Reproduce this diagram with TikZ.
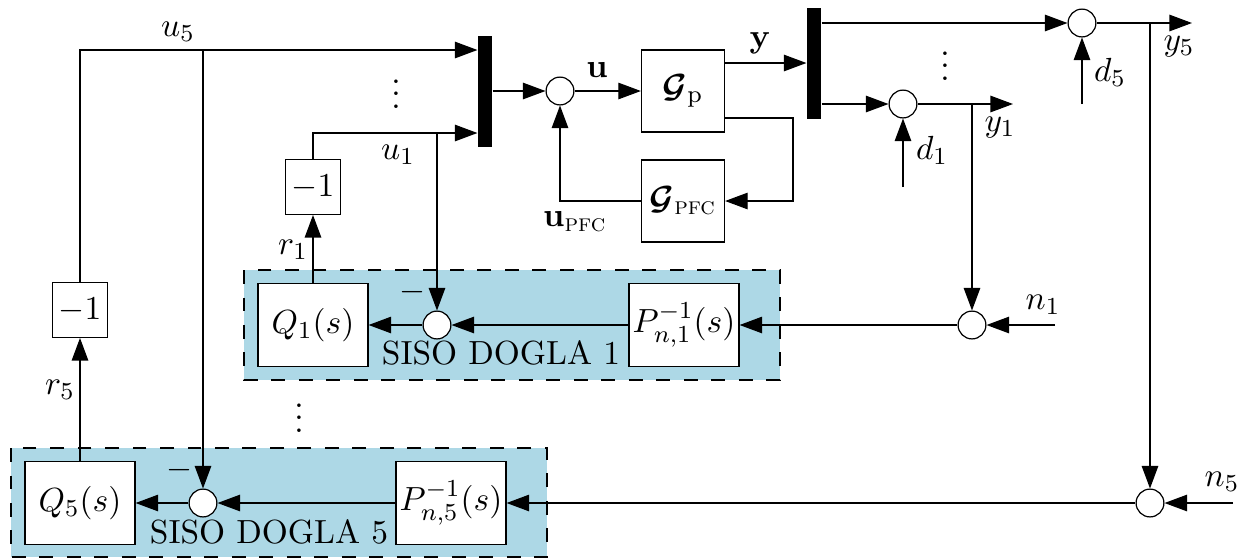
\documentclass[11pt,tikz,border=0pt]{standalone}
\usepackage{amsfonts, amsthm, amsmath}
\usepackage{amssymb}
\usepackage{bm}
\usepackage{color}
\usetikzlibrary{arrows.meta}
\definecolor{lightblue}{RGB}{173,216,230}

\begin{document}
\begin{tikzpicture}[x=0.0115cm,y=-0.0115cm,>={Triangle[length=2.6mm,width=1.9mm]},
  blk/.style={draw,fill=white,minimum width=1.265cm,minimum height=0.955cm,inner sep=0pt},
  gblk/.style={draw,fill=white,minimum width=0.955cm,minimum height=0.945cm,inner sep=0pt},
  gain/.style={draw,fill=white,minimum size=0.63cm,inner sep=0pt},
  sumn/.style={draw,circle,fill=white,minimum size=0.32cm,inner sep=0pt},
  bar/.style={fill=black,minimum width=0.16cm,minimum height=1.28cm,inner sep=0pt},
  siso/.style={draw,dash pattern=on 4.5pt off 4.5pt,fill=lightblue}]
\useasboundingbox (0,0) rectangle (1247,558);
\draw[siso] (244,270) rectangle (780,380);
\draw[siso] (11,448) rectangle (547,557);

% plant and pfc
\node[bar] (bar1) at (485,91.5) {};
\node[bar] (bar2) at (814,63.5) {};
\node[sumn] (s0) at (560,91) {};
\node[gblk] (Gp) at (683,91) {$\bm{\mathcal{G}}_{\mathrm{p}}$};
\node[gblk] (Gpfc) at (683,201) {$\bm{\mathcal{G}}_{\text{\textsc{pfc}}}$};
\node[sumn] (d1s) at (903,104) {};
\node[sumn] (d5s) at (1082,23) {};
\node[sumn] (c1) at (972,325) {};
\node[sumn] (c5) at (1150,503) {};

% dogla loops
\node[blk] (Q1) at (313,325) {$Q_1(s)$};
\node[sumn] (s1) at (437,325) {};
\node[blk] (P1) at (684,325) {$P_{n,1}^{-1}(s)$};
\node[gain] (m1) at (313,187) {$-1$};
\node[blk] (Q5) at (80,503) {$Q_5(s)$};
\node[sumn] (s5) at (203,503) {};
\node[blk] (P5) at (451,503) {$P_{n,5}^{-1}(s)$};
\node[gain] (m5) at (80,310) {$-1$};

\coordinate (u5c) at (80,50);
\coordinate (u1c) at (313,133);
\coordinate (yc) at (725,63);
\coordinate (fb) at (793,118);
\coordinate (d1in) at (903,187);
\coordinate (d5in) at (1082,104);
\coordinate (y1out) at (1013,104);
\coordinate (y5out) at (1192,23);
\coordinate (n1in) at (1055,325);
\coordinate (n5in) at (1233,503);

\draw[->] (m5.north) |- (bar1.west |- u5c);
\draw[->] (u5c -| s5) -- (s5.north);
\draw[->] (m1.north) |- (bar1.west |- u1c);
\draw[->] (u1c -| s1) -- (s1.north);
\draw[->] (Q1.north) -- (m1.south);
\draw[->] (Q5.north) -- (m5.south);
\draw[->] (bar1.east |- s0) -- (s0.west);
\draw[->] (s0.east) -- (Gp.west);
\draw[->] (Gp.east |- yc) -- (bar2.west |- yc);
\draw[->] (Gp.east |- fb) -- (fb) |- (Gpfc.east);
\draw[->] (Gpfc.west) -| (s0.south);
\draw[->] (bar2.east |- d5s) -- (d5s.west);
\draw[->] (bar2.east |- d1s) -- (d1s.west);
\draw[->] (d1s.east) -- (y1out);
\draw[->] (d5s.east) -- (y5out);
\draw[->] (d1in) -- (d1s.south);
\draw[->] (d5in) -- (d5s.south);
\draw[->] (d1s -| c1) -- (c1.north);
\draw[->] (d5s -| c5) -- (c5.north);
\draw[->] (n1in) -- (c1.east);
\draw[->] (n5in) -- (c5.east);
\draw[->] (c1.west) -- (P1.east);
\draw[->] (c5.west) -- (P5.east);
\draw[->] (P1.west) -- (s1.east);
\draw[->] (s1.west) -- (Q1.east);
\draw[->] (P5.west) -- (s5.east);
\draw[->] (s5.west) -- (Q5.east);

\node (lu5) at (178,32) {$u_5$};
\node (lu1) at (398,155) {$u_1$};
\node (lr1) at (293,250) {$r_1$};
\node (lr5) at (60,390) {$r_5$};
\node (lu) at (597,70) {$\mathbf{u}$};
\node (ly) at (760,43) {$\mathbf{y}$};
\node (lupfc) at (575,222) {$\mathbf{u}_{\text{\textsc{pfc}}}$};
\node (ly1) at (1000,128) {$y_1$};
\node (ly5) at (1179,47) {$y_5$};
\node (ld1) at (932,150) {$d_1$};
\node (ld5) at (1110,72) {$d_5$};
\node (ln1) at (1043,305) {$n_1$};
\node (ln5) at (1222,482) {$n_5$};
\node (lm1) at (413,292) {$-$};
\node (lm5) at (180,470) {$-$};
\node (t1) at (501,353) {SISO DOGLA 1};
\node (t5) at (269,532) {SISO DOGLA 5};
\node (v1) at (396,85) {$\vdots$};
\node (v2) at (945,57) {$\vdots$};
\node (v3) at (299,409) {$\vdots$};
\end{tikzpicture}
\end{document}
